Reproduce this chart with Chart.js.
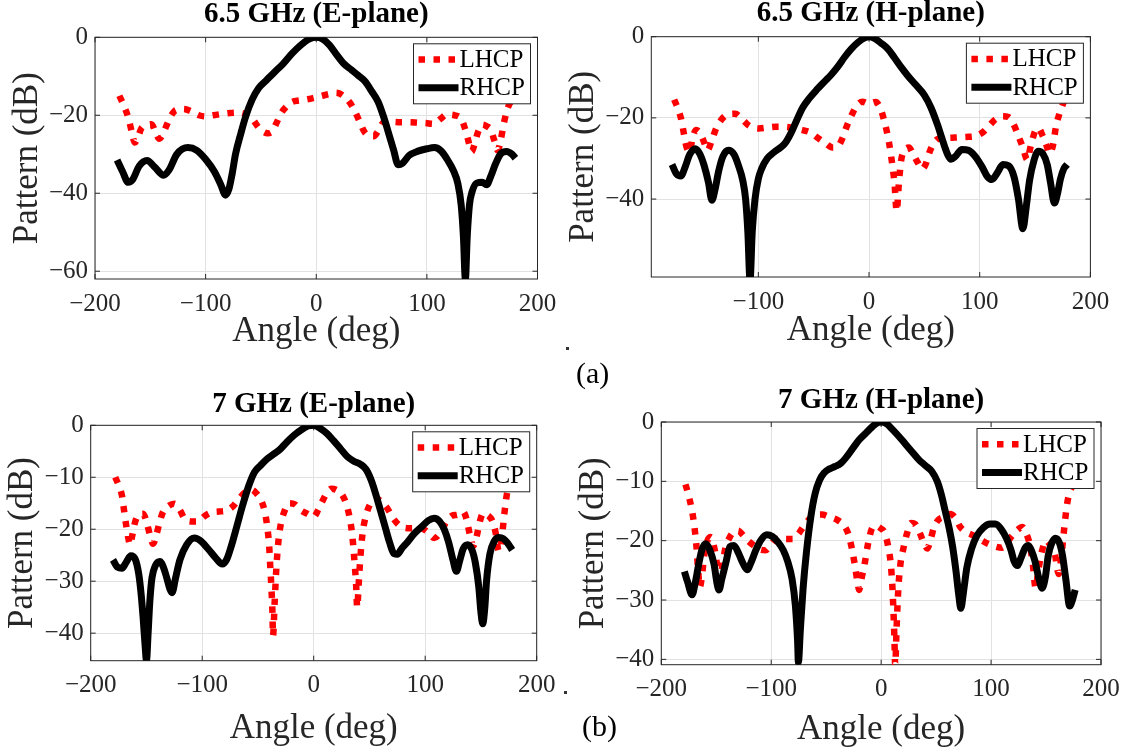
<!DOCTYPE html>
<html>
<head>
<meta charset="utf-8">
<script src="https://cdn.jsdelivr.net/npm/chart.js@4.4.1/dist/chart.umd.min.js"></script>
<style>
  body { margin: 0; width: 1129px; height: 752px; background: #fff; position: relative; overflow: hidden;
         font-family: 'Liberation Serif', 'Times New Roman', serif; }
  canvas { position: absolute; }
  .tag { position: absolute; font-size: 30px; line-height: 1; color: #000; }
  .speck { position: absolute; width: 3px; height: 3px; background: #333; }
</style>
</head>
<body>
<canvas id="e65"></canvas>
<canvas id="h65"></canvas>
<canvas id="e7"></canvas>
<canvas id="h7"></canvas>
<div class="tag" style="left:576px;top:358px">(a)</div>
<div class="tag" style="left:582px;top:711px">(b)</div>
<div class="speck" style="left:566px;top:347px"></div>
<div class="speck" style="left:564px;top:691px"></div>
<script>
// ---- measured patterns, [angle deg, level dB] ----
const e65Lhcp = [[-178,-15],[-174,-17.5],[-170,-20.5],[-167,-24],[-164,-27],[-161,-25.5],[-158,-23.3],[-154,-22.6],[-149,-22.3],[-145,-24.5],[-142,-26],[-139,-25],[-135,-22.4],[-131,-20],[-127,-18.7],[-120,-18.4],[-113,-19],[-106,-20],[-100,-20.3],[-93,-20],[-86,-19.7],[-78,-19.4],[-71,-19.3],[-64,-19.7],[-58,-20.8],[-53,-22.8],[-49,-24],[-44,-24.6],[-40,-24.2],[-36,-22],[-32,-19.6],[-27,-17.8],[-22,-16.6],[-15,-16.2],[-10,-16],[-3,-15.6],[4,-15.1],[11,-14.6],[18,-14.2],[24,-14.9],[30,-16.6],[35,-19],[39,-21.5],[43,-24],[47,-25.2],[52,-25.4],[56,-24],[61,-21.8],[68,-21.7],[76,-21.8],[84,-21.8],[92,-21.9],[99,-22],[106,-22.2],[112,-21],[118,-19.8],[125,-20],[131,-20.9],[134,-23],[137,-26],[140.5,-29.3],[143,-27.5],[146,-24.5],[150,-22.4],[154,-22.8],[158,-23.8],[161,-26.5],[164,-29],[167,-26],[170,-21.5],[174,-17.5],[178,-16]];
const e65Rhcp = [[-180,-31.5],[-175,-34.5],[-170,-37.2],[-166,-36.5],[-160,-33],[-153,-31.6],[-146,-33.3],[-138,-35.4],[-133,-34],[-126,-30],[-116,-28.3],[-108,-29],[-100,-31.3],[-92,-34.5],[-86,-38],[-82,-40.5],[-79,-39],[-76,-35],[-73,-30],[-68,-24.5],[-64,-20.5],[-58,-16],[-52,-13],[-45,-11],[-38,-9],[-30,-6.8],[-22,-4.2],[-14,-2],[-6,-0.4],[0,0],[6,-0.5],[12,-2],[18,-4.3],[25,-6.8],[32,-8.4],[38,-9.8],[44,-11.3],[50,-13.8],[56,-16.6],[61,-20.5],[65,-24.2],[70,-29],[74,-32.7],[78,-32.3],[84,-30.3],[92,-29.2],[100,-28.6],[107,-28.3],[113,-29.2],[119,-31.6],[124,-34.2],[128,-37.5],[131,-43],[133,-51],[134.8,-62],[136.5,-51],[138.5,-43],[141,-39.5],[145,-37.4],[150,-37.2],[154,-37.8],[158,-35.5],[162,-32.5],[167,-29.8],[172,-29.3],[177,-30],[180,-31]];

const h65Lhcp = [[-176,-15.5],[-173,-17.5],[-170,-20],[-167.5,-23.5],[-165,-27],[-162,-28.5],[-159.5,-25],[-156,-23],[-152,-24],[-149,-26],[-146,-28],[-142,-25.5],[-138,-22.5],[-133,-20.3],[-128,-19.2],[-121,-19],[-114,-20.5],[-108,-22],[-100,-22.6],[-92,-22.4],[-84,-22.2],[-76,-22.2],[-68,-22.5],[-60,-23],[-53,-23.6],[-46,-25],[-39,-26.3],[-33,-27.3],[-28,-27],[-24,-25],[-20,-22],[-16,-19.5],[-11,-17],[-6,-16],[0,-16.5],[6,-16.1],[10,-17.5],[14,-21],[18,-26],[21,-31.5],[23,-36],[25,-43],[27,-36],[29,-30.5],[32,-28],[36,-27.3],[40,-29],[44,-31],[48,-32.6],[51,-31.5],[55,-28.2],[59,-26],[64,-25],[72,-24.9],[80,-24.8],[88,-24.7],[96,-24.5],[103,-23.5],[109,-21.8],[114,-20.4],[120,-19.6],[126,-19.8],[131,-21.8],[135,-24.5],[139,-27.3],[143,-30.3],[146,-27],[150,-23.3],[153,-22.5],[157,-24.5],[160,-26.5],[163,-28.8],[166,-27],[169,-22],[172,-19],[176,-16]];
const h65Rhcp = [[-178,-31.5],[-174,-33.8],[-170,-34.3],[-166,-32],[-162,-29],[-157,-27.6],[-153,-28.8],[-149,-31.7],[-145,-36],[-142,-40.3],[-139,-37.5],[-136,-33.3],[-132,-29.5],[-127,-28],[-122,-29],[-118,-31.7],[-114,-35.5],[-111.5,-40],[-109.5,-48],[-107.5,-60],[-105.5,-48],[-103,-40],[-100,-35],[-97,-32.5],[-92,-30],[-86,-28.5],[-80,-27.3],[-76,-26.3],[-71,-24],[-66,-21],[-60,-17.5],[-54,-15.2],[-47,-13],[-40,-11],[-34,-9.3],[-28,-7.3],[-22,-5],[-16,-3],[-10,-1.4],[-4,-0.3],[0,0],[5,-0.4],[11,-1.6],[17,-3],[23,-5.2],[29,-7.5],[35,-9.6],[42,-11.8],[50,-14.4],[56,-17.5],[62,-21.8],[67,-26],[71,-29],[74,-30.2],[78,-29.5],[84,-27.8],[90,-28],[96,-29.5],[102,-32],[107,-34.5],[111,-35.2],[116,-33.5],[121,-31.5],[126,-31.8],[131,-34.5],[135,-40],[139,-47.3],[142,-42],[145,-35.5],[149,-30.5],[153,-28.2],[157,-28.8],[161,-31.5],[164,-36],[167.5,-41],[170,-39],[173,-35],[176,-32.5],[179,-31.5]];

const e7Lhcp = [[-178,-10],[-175,-11.5],[-172,-13.5],[-170,-16.5],[-168,-19.5],[-166,-22],[-164.5,-23],[-163,-21.5],[-160,-18.5],[-157,-17.2],[-153,-17],[-150,-18.5],[-147,-21],[-144,-22.8],[-141,-21],[-138,-18.5],[-135,-16.6],[-130,-15.5],[-125,-15.1],[-120,-16.3],[-116,-17.9],[-110,-18.5],[-104,-18.5],[-98,-17.5],[-92,-16.8],[-85,-16.6],[-78,-16.4],[-72,-15.5],[-68,-14.4],[-62,-13],[-56,-12.4],[-51,-13.2],[-47,-14.5],[-44,-16.5],[-42,-19],[-40,-23],[-39,-27],[-38,-31],[-37,-36],[-36.5,-40.5],[-35,-34],[-33.5,-27.5],[-31.5,-22],[-29.5,-19],[-27,-17],[-22,-15],[-17,-15.2],[-12,-16.3],[-6,-17],[0,-17.6],[4,-16.3],[8,-14.5],[12,-13],[16,-12.2],[20,-12.4],[25,-13.2],[29,-15],[32,-17.5],[34.5,-21],[36.5,-26],[38,-30.5],[39,-35],[40.5,-30],[42,-25],[44,-20.5],[47,-17.3],[51,-15],[55,-14],[60,-14.6],[66,-16],[71,-17.8],[77,-19.3],[84,-19.8],[90,-19.8],[96,-19.8],[102,-20.5],[108,-21.7],[114,-20.5],[119,-18.5],[124,-17.4],[129,-17.2],[134,-16.6],[137,-18],[140,-21],[143,-23.2],[146,-21.5],[149,-18.5],[152,-16.9],[156,-17.3],[160,-18.3],[163,-20.5],[166,-24.2],[168.5,-22],[171,-17],[173.5,-13],[176,-11.5]];
const e7Rhcp = [[-180,-25.9],[-176,-27.3],[-172,-27.5],[-168,-26.3],[-164,-25.1],[-160,-25.8],[-157,-28.5],[-155,-32],[-153,-37],[-151,-43],[-150,-45.3],[-148.5,-40],[-147,-34],[-145,-29.3],[-142,-27],[-138,-26.2],[-135,-27.2],[-132,-29.2],[-129,-31.5],[-127,-32.2],[-124,-29.5],[-120,-25.9],[-114,-23],[-107,-21.7],[-101,-22.3],[-95,-23.7],[-88,-25.5],[-82,-26.7],[-78,-25.8],[-74,-23.3],[-69,-19.5],[-64,-15.6],[-58,-11.5],[-53,-9],[-48,-7.8],[-42,-6.5],[-35,-5.4],[-30,-4.6],[-24,-3.2],[-17,-1.8],[-10,-0.7],[-5,-0.1],[0,0],[6,-0.6],[12,-1.6],[18,-3],[24,-4.5],[30,-6],[36,-6.9],[42,-7.5],[47,-8.5],[52,-10.8],[56,-13.5],[60,-16.5],[64,-19.5],[68,-22.5],[72,-24.7],[75,-24.8],[79,-23.7],[84,-22.5],[90,-20.9],[97,-19.5],[103,-18.3],[108,-17.9],[113,-18.5],[117,-20],[121,-22.5],[125,-26],[128,-28.1],[131,-26],[134,-23.8],[138,-23],[142,-24],[145,-26.5],[148,-31],[150,-36],[151.6,-38.2],[153.5,-35],[155,-30],[158,-24.8],[162,-22.3],[166,-21.6],[170,-21.8],[174,-22.7],[178,-24]];

const h7Lhcp = [[-178,-10.5],[-175,-12.5],[-172,-15],[-170,-17.5],[-168,-21],[-166.5,-25],[-165,-27.8],[-163,-26],[-161,-22.5],[-158,-20],[-155,-19.4],[-152,-21],[-149,-24.5],[-147,-27.8],[-145,-25],[-142,-21.5],[-138,-19.5],[-134,-18.5],[-130,-18.3],[-126,-19],[-121.7,-19.9],[-116,-20.8],[-110,-21.5],[-105,-21.6],[-100,-20.6],[-95,-19.7],[-88,-19.7],[-80,-19.7],[-75,-18.8],[-71,-17.7],[-66,-16.5],[-61,-15.7],[-54,-15.6],[-47,-16],[-40,-16.5],[-34,-17.4],[-30,-18.8],[-27,-21],[-24,-24],[-21.5,-27],[-20,-28.3],[-18,-26.5],[-15,-23.9],[-12,-20.6],[-8.5,-18],[-5,-17.5],[0,-18],[3,-18.6],[6,-20.6],[8.5,-23.5],[10,-27],[11,-31],[12,-36],[12.8,-41],[14,-35],[15.5,-28.5],[17.5,-24],[20,-21.5],[23.5,-18.8],[27.5,-17],[31,-17.2],[35,-18.6],[39,-20.5],[42,-21.3],[45,-19.8],[48,-17.8],[52,-16.5],[57,-16],[63,-15.5],[68,-16.3],[72,-17.7],[78,-18.6],[85,-19.2],[92,-20],[98,-20.6],[104,-21],[110,-21.2],[115,-20.2],[119,-19.2],[124,-18.2],[128.5,-17.7],[132,-18.8],[135,-20.5],[138,-24],[140.5,-28],[143,-25],[146,-22],[150,-20],[154,-20.8],[158,-22.2],[161.5,-25.6],[164,-22.5],[166.5,-18],[169,-14],[171.5,-11.8],[174,-10.8]];
const h7Rhcp = [[-179,-25.2],[-176,-27],[-172,-29.1],[-169,-27],[-166,-24],[-163,-21.5],[-159.5,-20.5],[-156,-21.5],[-152,-24],[-149.5,-27],[-147.5,-28.3],[-145,-26.5],[-141,-23.5],[-137.5,-21],[-134,-20.8],[-130,-22],[-126,-23.7],[-122,-24.9],[-118,-23.5],[-114,-21.6],[-109,-19.8],[-104,-19],[-99,-19.3],[-94,-20.2],[-89,-21.6],[-85,-23.5],[-81,-26.5],[-78,-31],[-76,-37],[-75.3,-40.5],[-73.5,-35],[-71,-28],[-68,-22],[-64,-16],[-60,-12],[-56,-9.8],[-52,-8.6],[-47,-7.9],[-42,-7.5],[-37,-7],[-32,-6],[-26,-4.5],[-20,-3],[-14,-1.9],[-8,-0.8],[-3,-0.1],[0,0],[5,-0.3],[10,-1.2],[16,-2.4],[22,-3.7],[28,-5],[34,-6.3],[40,-7.3],[46,-8.3],[51,-10],[55,-12.4],[58,-14.8],[62,-18],[65,-21],[68,-25],[70.5,-29],[72.5,-31.4],[75,-28.5],[78,-24.5],[82,-21.5],[87,-19.2],[93,-17.8],[99,-17.2],[104,-17.2],[109,-18],[114,-19.6],[118,-21.5],[121,-23.5],[124,-24.2],[127,-23],[131,-21.2],[134,-20.8],[137,-21.8],[140,-23.5],[143,-26],[146.5,-28],[149.5,-26],[152,-22.5],[155,-20.5],[158.5,-19.6],[162,-20.3],[165,-22.5],[168,-26.5],[171.5,-31],[174,-30],[176.5,-28.3]];

const seriesNames = ['LHCP', 'RHCP'];
const xTicks = [-200, -100, 0, 100, 200];
const yTicks65 = [0, -20, -40, -60];
const yTicks7 = [0, -10, -20, -30, -40];

const INK = '#262626';
const GRID = '#e2e2e2';
const SERIF = "'Liberation Serif', 'Times New Roman', serif";

// plot boxes in page pixels and axis limits
const panels = [
  { id: 'e65', title: '6.5 GHz (E-plane)', lhcp: e65Lhcp, rhcp: e65Rhcp, yTicks: yTicks65,
    L: 95, T: 37.3, R: 537.5, B: 279, xMin: -200, yMin: -62, titleGap: 23, xGap: 53 },
  { id: 'h65', title: '6.5 GHz (H-plane)', lhcp: h65Lhcp, rhcp: h65Rhcp, yTicks: yTicks65,
    L: 651.3, T: 36.7, R: 1090.4, B: 277, xMin: -196.7, yMin: -59.2, titleGap: 23, xGap: 54 },
  { id: 'e7', title: '7 GHz (E-plane)', lhcp: e7Lhcp, rhcp: e7Rhcp, yTicks: yTicks7,
    L: 90.7, T: 425.3, R: 536.7, B: 660.7, xMin: -200, yMin: -45.3, titleGap: 21, xGap: 68 },
  { id: 'h7', title: '7 GHz (H-plane)', lhcp: h7Lhcp, rhcp: h7Rhcp, yTicks: yTicks7,
    L: 661.3, T: 422, R: 1101, B: 664.7, xMin: -200, yMin: -40.9, titleGap: 21, xGap: 65 }
];

// negative tick labels use a true minus sign
const tickText = v => (v < 0 ? '\u2212' + Math.abs(v) : String(v));

// box around the axes with inward ticks, and the boxed legend in the top right corner
const axesBox = {
  id: 'axesBox',
  beforeDatasetsDraw(chart) {
    const { ctx, chartArea: a, scales: { x, y } } = chart;
    ctx.save();
    ctx.strokeStyle = INK;
    ctx.lineWidth = 1;
    ctx.strokeRect(a.left, a.top, a.right - a.left, a.bottom - a.top);
    ctx.beginPath();
    x.ticks.forEach(t => {
      const px = x.getPixelForValue(t.value);
      ctx.moveTo(px, a.bottom); ctx.lineTo(px, a.bottom - 5);
      ctx.moveTo(px, a.top); ctx.lineTo(px, a.top + 5);
    });
    y.ticks.forEach(t => {
      const py = y.getPixelForValue(t.value);
      ctx.moveTo(a.left, py); ctx.lineTo(a.left + 5, py);
      ctx.moveTo(a.right, py); ctx.lineTo(a.right - 5, py);
    });
    ctx.stroke();
    ctx.restore();
  },
  afterDatasetsDraw(chart) {
    const { ctx, chartArea: a } = chart;
    const w = 117, h = 60;
    const bx = a.right - 7 - w, by = a.top + 6.5;
    ctx.save();
    ctx.fillStyle = '#fff';
    ctx.fillRect(bx, by, w, h);
    ctx.strokeStyle = INK;
    ctx.lineWidth = 1;
    ctx.strokeRect(bx, by, w, h);
    chart.data.datasets.forEach((ds, i) => {
      const ly = by + 15.7 + i * 28.3;
      ctx.beginPath();
      ctx.setLineDash(ds.borderDash || []);
      ctx.lineWidth = ds.borderWidth;
      ctx.strokeStyle = ds.borderColor;
      ctx.moveTo(bx + 5, ly);
      ctx.lineTo(bx + 45, ly);
      ctx.stroke();
      ctx.setLineDash([]);
      ctx.fillStyle = '#000';
      ctx.font = '25px ' + SERIF;
      ctx.textBaseline = 'middle';
      ctx.fillText(ds.label, bx + 46, ly + 1);
    });
    ctx.restore();
  }
};

const toXY = pts => pts.map(([x, y]) => ({ x, y }));

function buildPanel(p) {
  const cx = Math.floor(p.L - 88);
  const cy = Math.floor(p.T - 37);
  const cw = Math.ceil(p.R + 30 - cx);
  const ch = Math.ceil(p.B + p.xGap + 22 - cy);
  const canvas = document.getElementById(p.id);
  canvas.width = cw;
  canvas.height = ch;
  canvas.style.left = cx + 'px';
  canvas.style.top = cy + 'px';

  const titleSize = 29;
  const titleTop = (p.T - p.titleGap) - cy - titleSize / 2;
  const titleBottom = (p.T - cy) - titleSize - titleTop;
  const labelSize = 35;
  const xTitleBottom = (cy + ch) - (p.B + p.xGap) - labelSize * 0.6;

  new Chart(canvas, {
    type: 'line',
    data: {
      datasets: [
        { label: seriesNames[0], data: toXY(p.lhcp), borderColor: '#ff0000', borderWidth: 6.5,
          borderDash: [6.5, 8.5], borderJoinStyle: 'round', order: 1 },
        { label: seriesNames[1], data: toXY(p.rhcp), borderColor: '#000000', borderWidth: 7,
          borderJoinStyle: 'round', order: 0 }
      ]
    },
    options: {
      responsive: false,
      animation: false,
      devicePixelRatio: 1,
      parsing: false,
      elements: { point: { radius: 0 }, line: { cubicInterpolationMode: 'monotone' } },
      layout: { padding: { left: 0, top: 0, bottom: 0, right: cx + cw - p.R } },
      plugins: {
        legend: { display: false },
        tooltip: { enabled: false },
        title: {
          display: true, text: p.title, fullSize: false, color: '#000',
          font: { family: SERIF, size: titleSize, weight: 'bold', lineHeight: 1 },
          padding: { top: titleTop, bottom: titleBottom }
        }
      },
      scales: {
        x: {
          type: 'linear', min: p.xMin, max: 200,
          afterBuildTicks: s => { s.ticks = xTicks.filter(v => v >= s.min && v <= s.max).map(v => ({ value: v })); },
          afterFit: s => { s.height = cy + ch - p.B; },
          grid: { color: GRID, lineWidth: 1, drawTicks: false },
          border: { display: false },
          ticks: { color: INK, font: { family: SERIF, size: 25 }, padding: 10, maxRotation: 0,
                   autoSkip: false, callback: tickText },
          title: { display: true, text: 'Angle (deg)', color: INK,
                   font: { family: SERIF, size: labelSize }, padding: { top: 0, bottom: xTitleBottom } }
        },
        y: {
          type: 'linear', min: p.yMin, max: 0,
          afterBuildTicks: s => { s.ticks = p.yTicks.filter(v => v >= s.min && v <= s.max).map(v => ({ value: v })); },
          afterFit: s => { s.width = p.L - cx; },
          grid: { color: GRID, lineWidth: 1, drawTicks: false },
          border: { display: false },
          ticks: { color: INK, font: { family: SERIF, size: 25 }, padding: 7, autoSkip: false,
                   callback: tickText },
          title: { display: true, text: 'Pattern (dB)', color: INK,
                   font: { family: SERIF, size: labelSize }, padding: 0 }
        }
      }
    },
    plugins: [axesBox]
  });
}

panels.forEach(buildPanel);
</script>
</body>
</html>
